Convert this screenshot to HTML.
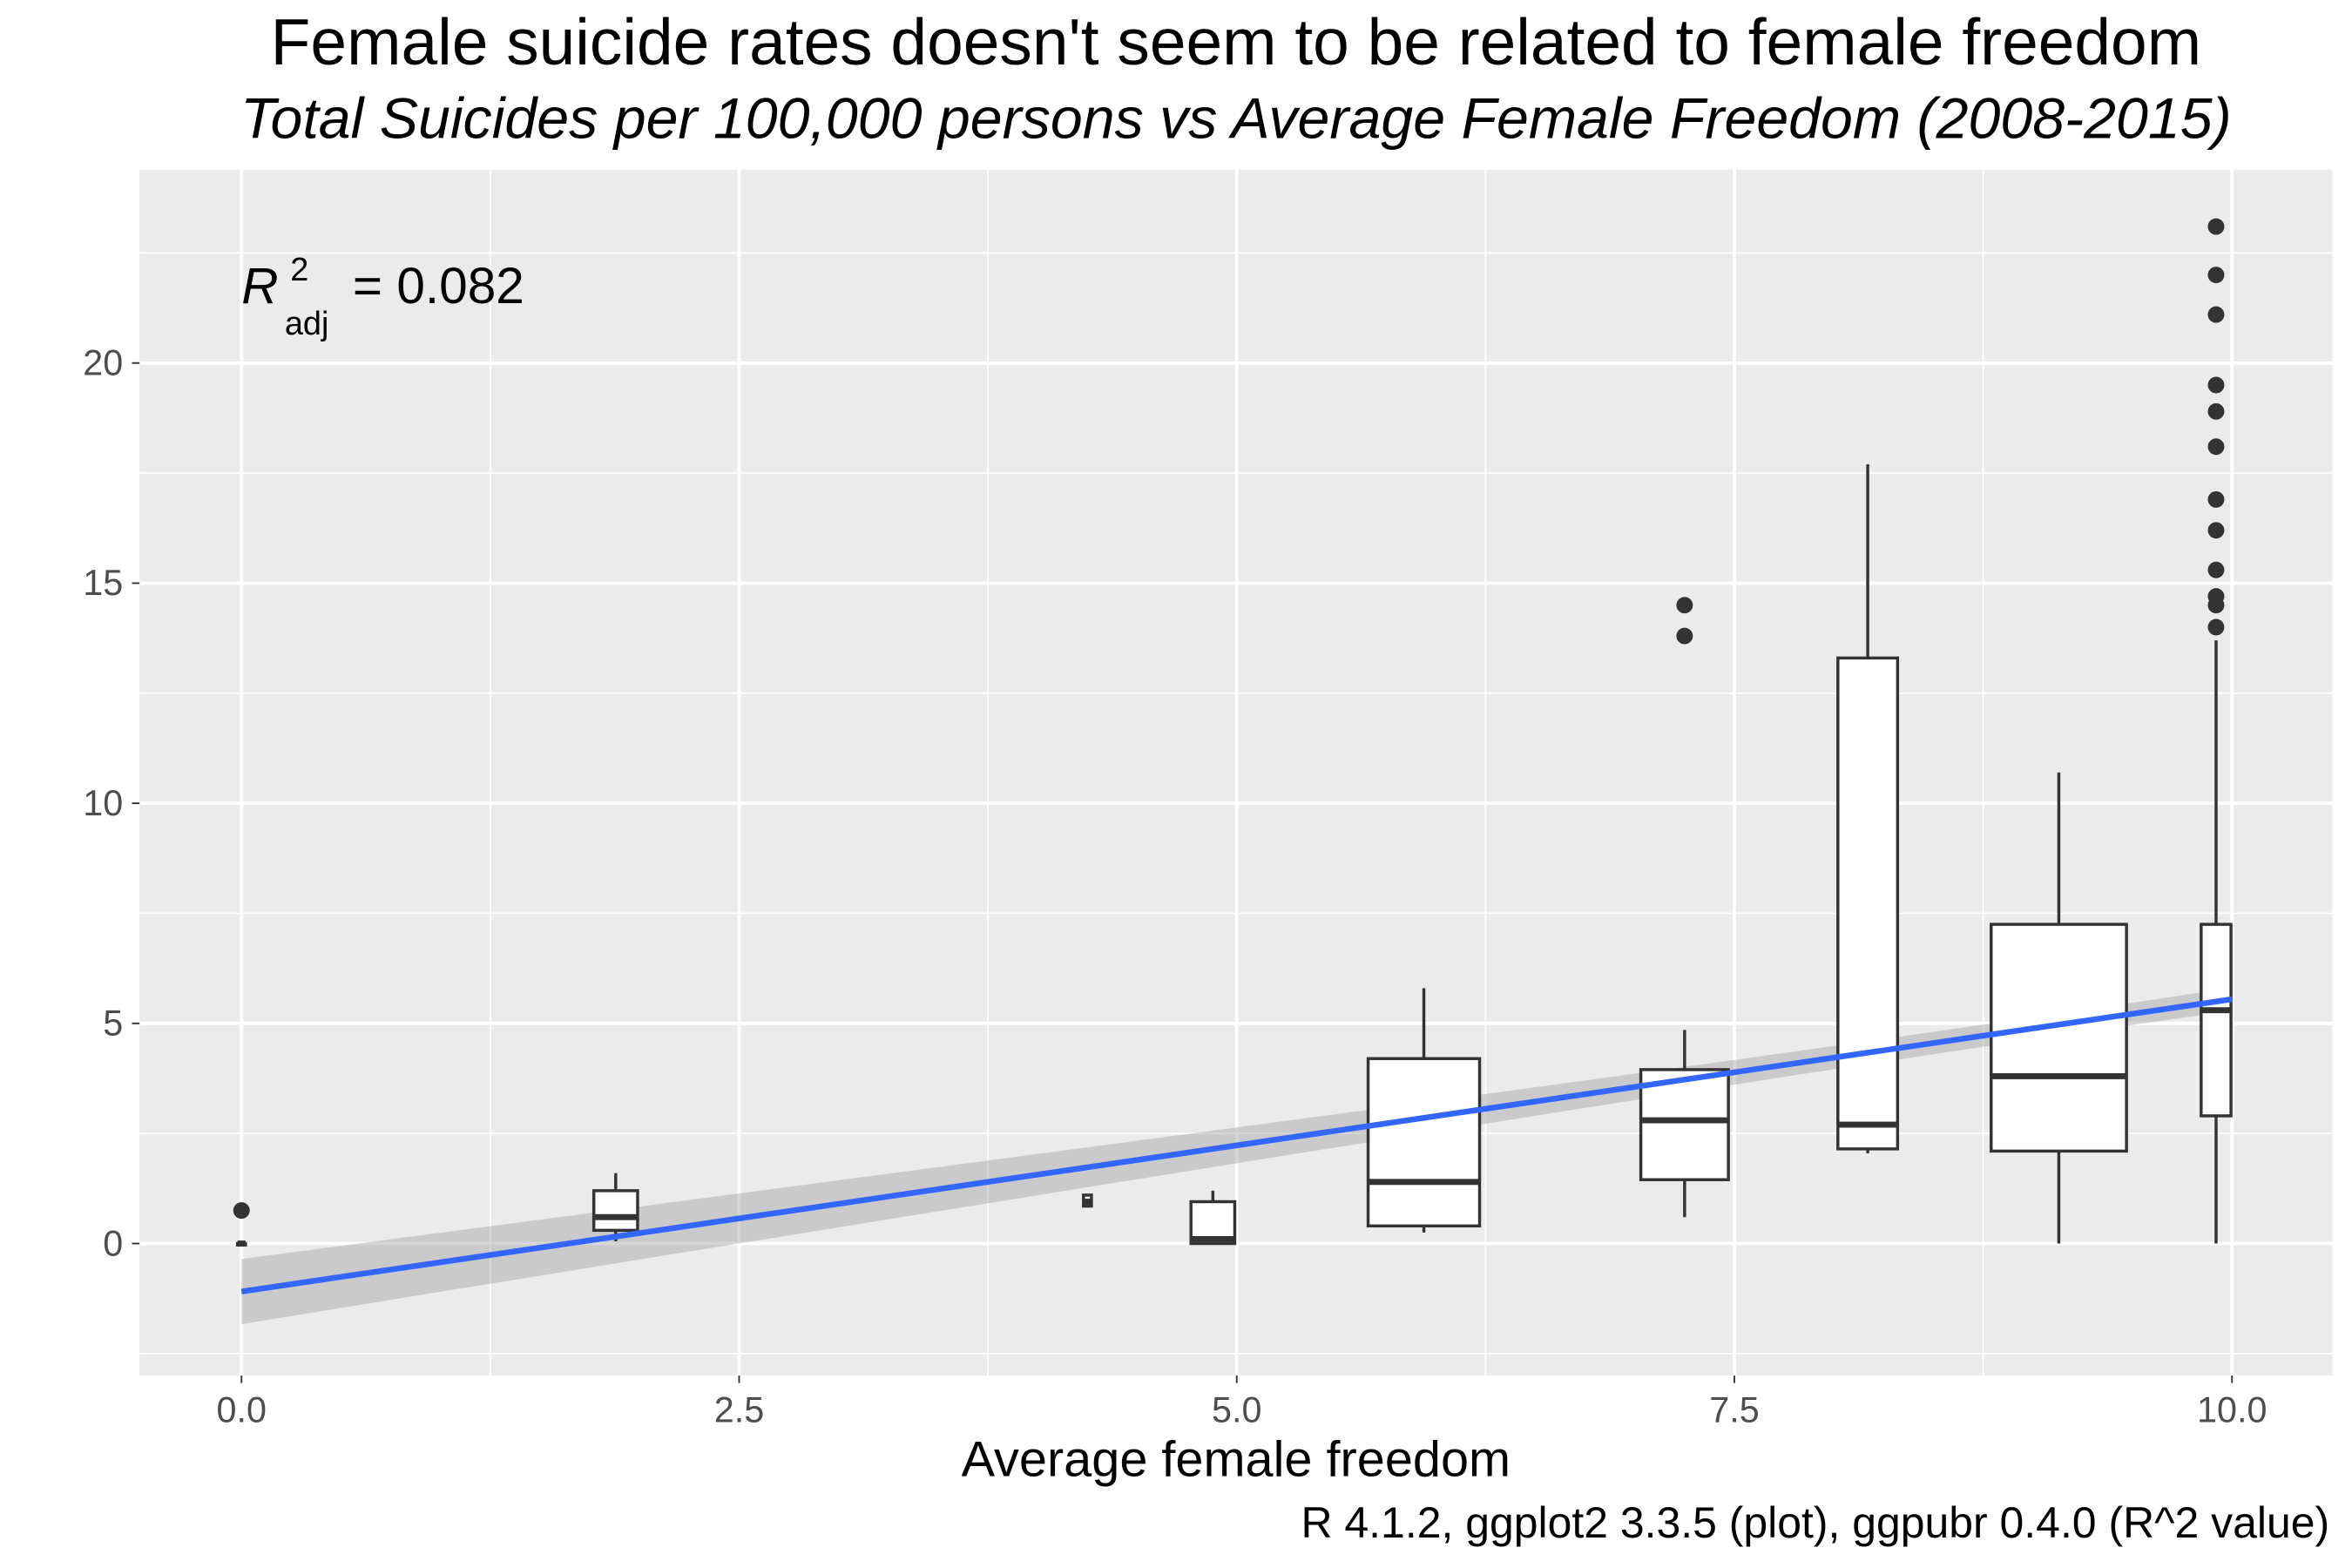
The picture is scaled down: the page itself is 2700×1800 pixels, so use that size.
<!DOCTYPE html>
<html><head><meta charset="utf-8"><style>html,body{margin:0;padding:0;background:#fff}svg{display:block}text{font-family:"Liberation Sans",sans-serif}</style></head>
<body>
<svg id="chart" width="2700" height="1800" viewBox="0 0 1568 1045.3" xmlns="http://www.w3.org/2000/svg">
<rect x="0" y="0" width="1568" height="1045.3" fill="#fff"/>
<text x="824" y="43" font-size="43.5" text-anchor="middle" fill="#000">Female suicide rates doesn't seem to be related to female freedom</text>
<text x="824" y="92" font-size="38.5" font-style="italic" text-anchor="middle" fill="#000">Total Suicides per 100,000 persons vs Average Female Freedom (2008-2015)</text>
<rect x="93" y="113" width="1462" height="804" fill="#ebebeb"/>
<g id="grid"></g>
<g id="ribbon"></g>
<g id="boxes"></g>
<g id="axes"></g>
<text x="161" y="202" font-size="34" fill="#000"><tspan font-style="italic">R</tspan><tspan font-size="22" dx="8" dy="-15">2</tspan><tspan font-size="22" dx="-16" dy="36">adj</tspan><tspan dy="-21" dx="16">=  0.082</tspan></text>
<text x="824" y="984" font-size="33.5" text-anchor="middle" fill="#000">Average female freedom</text>
<text x="1553" y="1025" font-size="29" text-anchor="end" fill="#000">R 4.1.2, ggplot2 3.3.5 (plot), ggpubr 0.4.0 (R^2 value)</text>
</svg>
<script>
const xCenters=[0,1.88,4.25,4.88,5.94,7.25,8.17,9.13,9.92];
const halfWidths=[0.02,0.11,0.02,0.11,0.28,0.22,0.15,0.34,0.075];
const lowerWhisker=[0,0.05,0.85,0,0.25,0.6,2.05,0,0];
const q1=[0,0.3,0.85,0,0.4,1.45,2.15,2.1,2.9];
const medians=[0,0.6,0.95,0.1,1.4,2.8,2.7,3.8,5.3];
const q3=[0,1.2,1.1,0.95,4.2,3.95,13.3,7.25,7.25];
const upperWhisker=[0,1.6,1.1,1.2,5.8,4.85,17.7,10.7,13.7];
const outlierX=[0,7.25,7.25,9.92,9.92,9.92,9.92,9.92,9.92,9.92,9.92,9.92,9.92,9.92,9.92];
const outlierY=[0.75,13.8,14.5,14.0,14.5,14.7,15.3,16.2,16.9,18.1,18.9,19.5,21.1,22.0,23.1];
const fitX=[0,10];
const fitY=[-1.09,5.55];
const fitSE=[0.7,0.22];
const xTicks=[0,2.5,5,7.5,10];
const xTickLabels=["0.0","2.5","5.0","7.5","10.0"];
const yTicks=[0,5,10,15,20];
const yTickLabels=["0","5","10","15","20"];
const xMinor=[1.25,3.75,6.25,8.75];
const yMinor=[-2.5,2.5,7.5,12.5,17.5,22.5];
const NS="http://www.w3.org/2000/svg";
const X=v=>161+v*132.7, Y=v=>829-v*29.35;
function mk(p,t,a){const e=document.createElementNS(NS,t);for(const k in a)e.setAttribute(k,a[k]);document.getElementById(p).appendChild(e);return e;}
xMinor.forEach(v=>{const e=mk('grid','line',{x1:X(v),x2:X(v),y1:113,y2:917,stroke:'#fff','stroke-width':1});

});
yMinor.forEach(v=>{const e=mk('grid','line',{x1:93,x2:1555,y1:Y(v),y2:Y(v),stroke:'#fff','stroke-width':1});

});
xTicks.forEach((v,i)=>{const e=mk('grid','line',{x1:X(v),x2:X(v),y1:113,y2:917,stroke:'#fff','stroke-width':2.2});


const t=mk('axes','line',{x1:X(v),x2:X(v),y1:917,y2:922,stroke:'#333','stroke-width':1.1});


const l=mk('axes','text',{x:X(v),y:948,'font-size':24,'text-anchor':'middle',fill:'#4d4d4d'});l.textContent=xTickLabels[i];

});
yTicks.forEach((v,i)=>{const e=mk('grid','line',{x1:93,x2:1555,y1:Y(v),y2:Y(v),stroke:'#fff','stroke-width':2.2});


const t=mk('axes','line',{x1:88,x2:93,y1:Y(v),y2:Y(v),stroke:'#333','stroke-width':1.1});


const l=mk('axes','text',{x:82,y:Y(v)+8,'font-size':24,'text-anchor':'end',fill:'#4d4d4d'});l.textContent=yTickLabels[i];

});
const rx=[],rlo=[],rhi=[];
for(let i=0;i<=40;i++){const x=i/4;const f=fitY[0]+(fitY[1]-fitY[0])*(x-fitX[0])/(fitX[1]-fitX[0]);
const se=Math.sqrt(Math.pow(fitSE[0]*(1-x/10),2)+Math.pow(fitSE[1]*x/10,2))+0.04;rx.push(x);rlo.push(f-se);rhi.push(f+se);}
let d='M'+rx.map((x,i)=>X(x)+','+Y(rhi[i])).join('L')+'L'+rx.slice().reverse().map((x,i)=>X(x)+','+Y(rlo[rlo.length-1-i])).join('L')+'Z';
const rb=mk('ribbon','path',{d:d,fill:'#999','fill-opacity':0.4});


xCenters.forEach((c,i)=>{
const w=mk('boxes','line',{x1:X(c),x2:X(c),y1:Y(upperWhisker[i]),y2:Y(lowerWhisker[i]),stroke:'#333','stroke-width':2});


const hgt=Math.max(Y(q1[i])-Y(q3[i]),1);
const b=mk('boxes','rect',{x:X(c-halfWidths[i]),y:Y(q3[i]),width:2*halfWidths[i]*132.7,height:hgt,fill:'#fff',stroke:'#333','stroke-width':2});


const m=mk('boxes','line',{x1:X(c-halfWidths[i]),x2:X(c+halfWidths[i]),y1:Y(medians[i]),y2:Y(medians[i]),stroke:'#333','stroke-width':4});

});
outlierX.forEach((x,i)=>{const p=mk('boxes','circle',{cx:X(x),cy:Y(outlierY[i]),r:5.5,fill:'#333'});

});
const fl=mk('boxes','line',{x1:X(fitX[0]),x2:X(fitX[1]),y1:Y(fitY[0]),y2:Y(fitY[1]),stroke:'#3366ff','stroke-width':3.8});


</script>
</body></html>
